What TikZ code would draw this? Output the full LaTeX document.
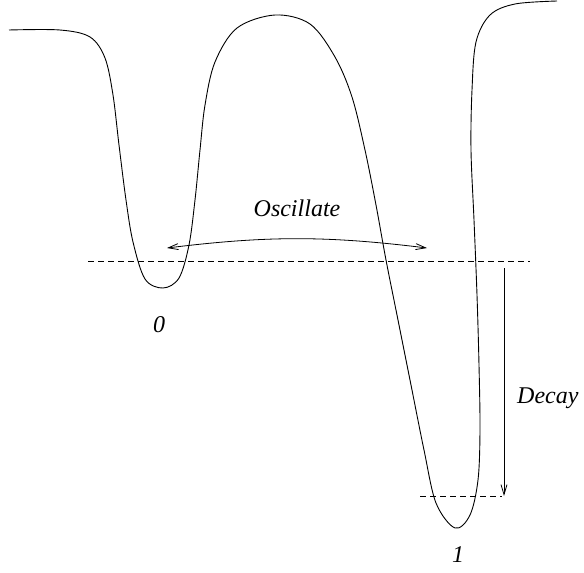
\documentclass[tikz,border=0pt]{standalone}
\usepackage{fontspec}
\setmainfont{Liberation Serif}
\usetikzlibrary{arrows.meta}
\tikzset{
  lbl/.style={font=\fontsize{24}{28}\selectfont\itshape, inner sep=0pt},
  level/.style={dash pattern=on 6pt off 4pt, line width=0.7pt},
  tr/.style={line width=0.8pt, -{Straight Barb[length=10pt,width=6pt]}},
  trboth/.style={line width=0.8pt, {Straight Barb[length=10pt,width=6pt]}-{Straight Barb[length=10pt,width=6pt]}}
}
\begin{document}
\begin{tikzpicture}[x=1pt, y=-1pt]
\useasboundingbox (0,0) rectangle (584,573);
% Potential curve
\draw[line width=0.9pt] plot[smooth, tension=0.55] coordinates {
  (9,30) (60,30) (90,37) (105,58) (113,95) (119,145) (126,200)
  (133,242) (145,279) (163,288) (179,278) (189,245) (195,200)
  (200,150) (205,105) (215,62) (237,28) (275,15) (310,24)
  (335,57) (352,97) (365,150) (376,205) (386,260) (398,320)
  (411,385) (424,450) (436,503) (455,528) (470,515) (478,480)
  (480,430) (479,365) (477,295) (474,220) (471,150) (472,90)
  (476,42) (490,15) (515,4) (557,1)};
% Levels
\coordinate (lvlA) at (88,261);
\coordinate (lvlB) at (530,261);
\coordinate (lvlC) at (420,496);
\coordinate (lvlD) at (502,496);
\draw[level] (lvlA) -- (lvlB);
\draw[level] (lvlC) -- (lvlD);
% Oscillate
\coordinate (oscL) at (167,248);
\coordinate (oscR) at (427,248);
\draw[trboth] (oscL) to[bend left=7] (oscR);
\node[lbl] (osc) at (297,208) {Oscillate};
% Decay
\coordinate (decT) at (504,268);
\coordinate (decB) at (504,496);
\draw[tr] (decT) -- (decB);
\node[lbl, anchor=west] (dec) at (517,398) {Decay};
% Well labels
\node[lbl] (w0) at (159,325) {0};
\node[lbl] (w1) at (458,555) {1};
\end{tikzpicture}
\end{document}
